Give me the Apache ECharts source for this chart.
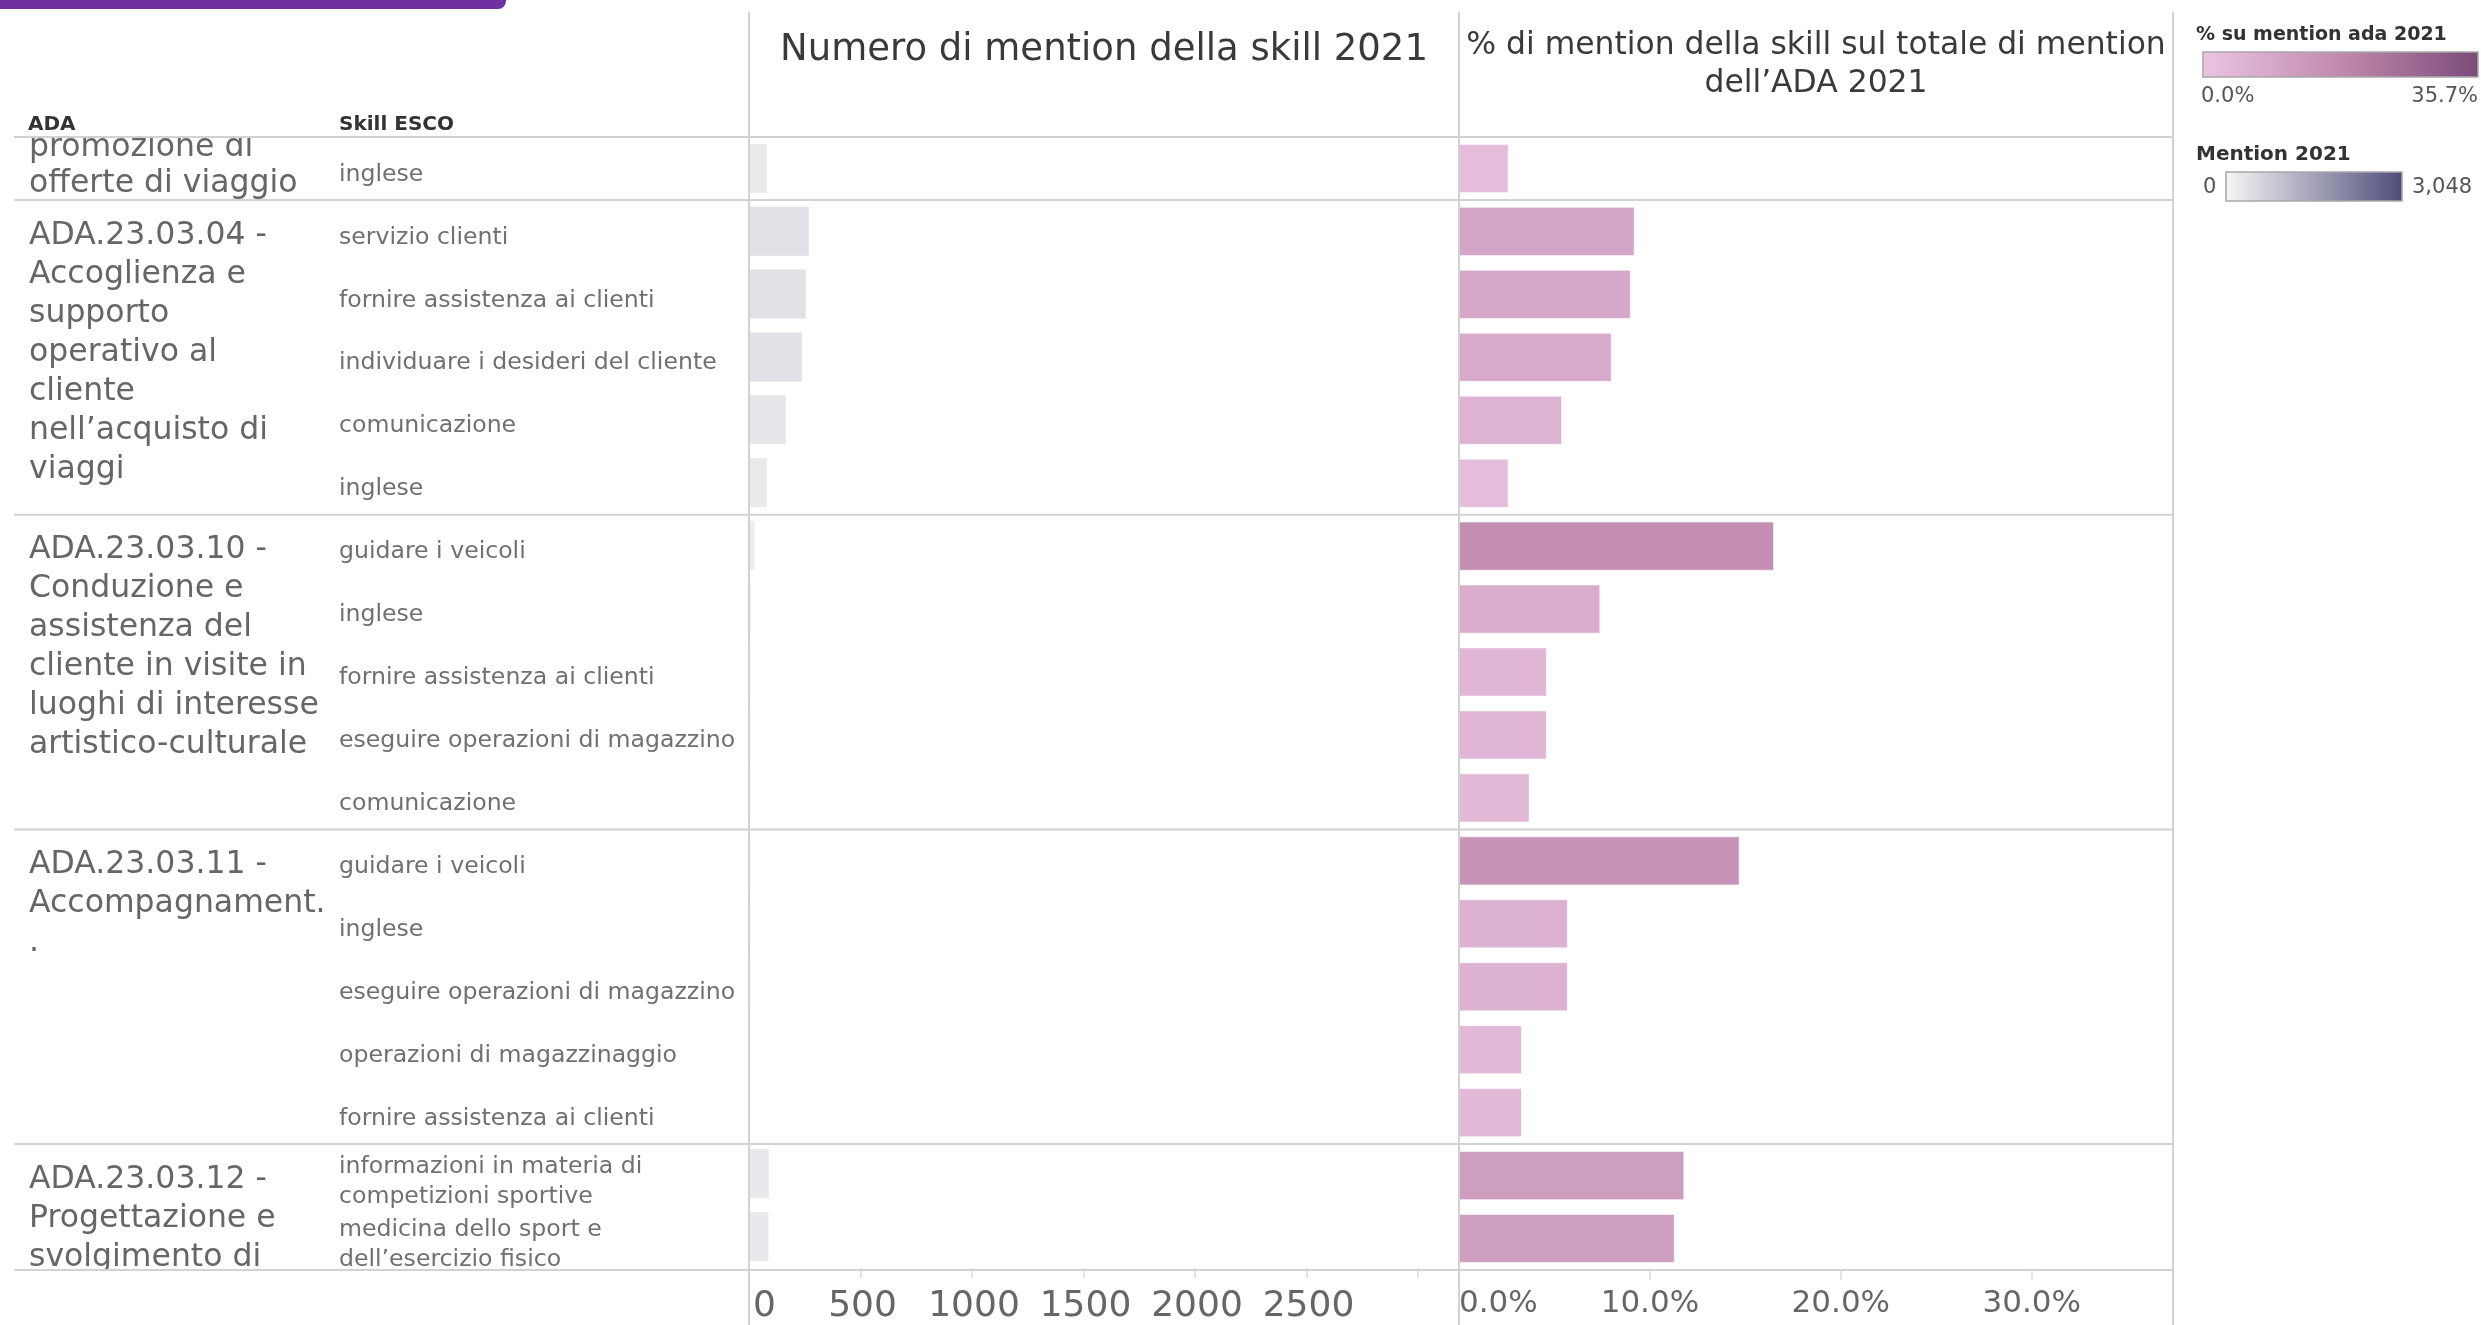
<!DOCTYPE html>
<html>
<head>
<meta charset="utf-8">
<script src="https://cdn.jsdelivr.net/npm/echarts@6/dist/echarts.min.js"></script>
<style>
html,body{margin:0;padding:0;background:#ffffff;}
#c{width:2481px;height:1325px;}
</style>
</head>
<body>
<div id="c"></div>
<script>
// ---------------- DATA ----------------
const skills = [
  'inglese',
  'servizio clienti',
  'fornire assistenza ai clienti',
  'individuare i desideri del cliente',
  'comunicazione',
  'inglese',
  'guidare i veicoli',
  'inglese',
  'fornire assistenza ai clienti',
  'eseguire operazioni di magazzino',
  'comunicazione',
  'guidare i veicoli',
  'inglese',
  'eseguire operazioni di magazzino',
  'operazioni di magazzinaggio',
  'fornire assistenza ai clienti',
  'informazioni in materia di\ncompetizioni sportive',
  'medicina dello sport e\ndell’esercizio fisico'
];
const adaLabels = [
  'promozione di\nofferte di viaggio',
  'ADA.23.03.04 -\nAccoglienza e\nsupporto\noperativo al\ncliente\nnell’acquisto di\nviaggi',
  'ADA.23.03.10 -\nConduzione e\nassistenza del\ncliente in visite in\nluoghi di interesse\nartistico-culturale',
  'ADA.23.03.11 -\nAccompagnament.\n.',
  'ADA.23.03.12 -\nProgettazione e\nsvolgimento di'
];
const adaGroupStart = [0, 1, 6, 11, 16];
const adaGroupSize  = [1, 5, 5, 5, 2];
const mentions2021 = [80, 268, 254, 237, 165, 80, 25, 8, 7, 7, 6, 6, 5, 5, 4, 4, 89, 87];
const pctOfAda2021 = [2.6, 9.2, 9.0, 8.0, 5.4, 2.6, 16.5, 7.4, 4.6, 4.6, 3.7, 14.7, 5.7, 5.7, 3.3, 3.3, 11.8, 11.3];
const countAxisMax = 3184;
const pctAxisMax = 37.4;
const mentionLegendMax = 3048;
const pctLegendMax = 35.7;
const countTickLabels = [0, 500, 1000, 1500, 2000, 2500];
const pctTickLabels = [0, 10, 20, 30];

// ---------------- STYLE ----------------
const FONT = 'DejaVu Sans';
const countColors = ['#eeeef0', '#4e4d7a'];
const pctColors = ['#ecc4e2', '#d5a7c8', '#c08aad', '#9f6a94', '#7b4a7a'];
const L = {top: 137, bottom: 1270, left: 14, cL: 749, pL: 1459, pR: 2173};
const H = L.bottom - L.top;
const SKILL_LABEL_DY = 6;

const chart = echarts.init(document.getElementById('c'));

const option = {
  backgroundColor: '#ffffff',
  animation: false,
  textStyle: {fontFamily: FONT},
  grid: [
    {left: L.cL, top: L.top, width: L.pL - L.cL, height: H},
    {left: L.pL, top: L.top, width: L.pR - L.pL, height: H},
    {left: L.left, top: L.top, width: L.pR - L.left, height: H},
    {left: L.cL, top: L.top + SKILL_LABEL_DY, width: L.pL - L.cL, height: H}
  ],
  xAxis: [
    {
      gridIndex: 0, type: 'value', min: 0, max: countAxisMax, interval: 500,
      axisLine: {show: false}, splitLine: {show: false},
      axisTick: {show: true, length: 10, lineStyle: {color: '#dcdcdc', width: 1.5}},
      axisLabel: {
        margin: 39, verticalAlign: 'middle', fontFamily: FONT, fontSize: 36, color: '#666',
        alignMinLabel: 'left', showMaxLabel: false, padding: [0, 0, 0, 4],
        formatter: v => countTickLabels.indexOf(v) >= 0 ? String(v) : ''
      }
    },
    {
      gridIndex: 1, type: 'value', min: 0, max: pctAxisMax, interval: 10,
      axisLine: {show: false}, splitLine: {show: false},
      axisTick: {show: true, length: 10, lineStyle: {color: '#dcdcdc', width: 1.5}},
      axisLabel: {
        margin: 34, verticalAlign: 'middle', fontFamily: FONT, fontSize: 31, color: '#666',
        alignMinLabel: 'left', showMaxLabel: false,
        formatter: v => pctTickLabels.indexOf(v) >= 0 ? v.toFixed(1) + '%' : ''
      }
    },
    {gridIndex: 2, type: 'value', min: 0, max: 1, show: false},
    {gridIndex: 3, type: 'value', min: 0, max: 1, show: false}
  ],
  yAxis: [
    {gridIndex: 0, type: 'category', inverse: true, data: skills, show: false},
    {gridIndex: 1, type: 'category', inverse: true, data: skills, show: false},
    {gridIndex: 2, type: 'category', inverse: true, data: skills, show: false},
    {
      gridIndex: 3, type: 'category', inverse: true, data: skills,
      axisLine: {show: false}, axisTick: {show: false}, splitLine: {show: false},
      axisLabel: {
        margin: L.cL - 339, align: 'left', fontFamily: FONT, fontSize: 23.6,
        color: '#707070', lineHeight: 30, interval: 0
      }
    }
  ],
  visualMap: [
    {show: false, type: 'continuous', seriesIndex: 0, dimension: 0, min: 0, max: mentionLegendMax, inRange: {color: countColors}},
    {show: false, type: 'continuous', seriesIndex: 1, dimension: 0, min: 0, max: pctLegendMax, inRange: {color: pctColors}}
  ],
  series: [
    {
      type: 'bar', xAxisIndex: 0, yAxisIndex: 0, barWidth: '78%', silent: true,
      data: mentions2021.map((v, i) => [v, i])
    },
    {
      type: 'bar', xAxisIndex: 1, yAxisIndex: 1, barWidth: '78%', silent: true,
      itemStyle: {borderColor: 'rgba(255,255,255,0.55)', borderWidth: 1},
      data: pctOfAda2021.map((v, i) => [v, i])
    }
  ]
};
chart.setOption(option);

// --------- layout decorations derived from the category axis ---------
const band = H / skills.length;
const rowTop = i => chart.convertToPixel({yAxisIndex: 2}, i) - band / 2;
const LINE = '#d2d2d2';
const g = [];

// purple accent bar
g.push({type: 'rect', z: 10, shape: {x: 0, y: 0, width: 506, height: 9, r: [0, 0, 8, 0]}, style: {fill: '#7030a0'}});

// ADA group labels
adaLabels.forEach((t, k) => {
  const top = rowTop(adaGroupStart[k]);
  const bottom = top + band * adaGroupSize[k];
  if (k === 0) {
    g.push({type: 'text', z: 1, x: 29, y: bottom + 2,
      style: {text: t, fontFamily: FONT, fontSize: 31.5, lineHeight: 36, fill: '#666',
        align: 'left', verticalAlign: 'bottom', textAlign: 'left', textVerticalAlign: 'bottom'}});
  } else {
    g.push({type: 'text', z: 1, x: 29, y: top + 16,
      style: {text: t, fontFamily: FONT, fontSize: 31.5, lineHeight: 39, fill: '#666',
        align: 'left', verticalAlign: 'top', textAlign: 'left', textVerticalAlign: 'top'}});
  }
});
// white covers that clip the label column at the header and axis rows
g.push({type: 'rect', z: 2, shape: {x: 0, y: 86, width: 335, height: L.top - 86 - 1}, style: {fill: '#fff'}});
g.push({type: 'rect', z: 2, shape: {x: 0, y: L.bottom + 1, width: L.cL - 2, height: 1325 - L.bottom}, style: {fill: '#fff'}});

// horizontal separators: header, ADA group boundaries, axis
const hy = [L.top, L.bottom].concat(adaGroupStart.slice(1).map(s => rowTop(s)));
hy.forEach(y => g.push({type: 'line', z: 5, shape: {x1: L.left, y1: y, x2: L.pR, y2: y}, style: {stroke: LINE, lineWidth: 2}}));
// vertical panel dividers
[L.cL, L.pL, L.pR].forEach(x => g.push({type: 'line', z: 5, shape: {x1: x, y1: 12, x2: x, y2: 1325}, style: {stroke: LINE, lineWidth: 2}}));

// header texts
const hdr = (text, x, y, size, extra) => Object.assign({type: 'text', z: 6, x: x, y: y,
  style: Object.assign({text: text, fontFamily: FONT, fontSize: size, fill: '#333',
    align: 'left', verticalAlign: 'middle', textAlign: 'left', textVerticalAlign: 'middle'}, extra || {})});
g.push(hdr('ADA', 28, 125, 20, {fontWeight: 'bold'}));
g.push(hdr('Skill ESCO', 339, 125, 20, {fontWeight: 'bold'}));
g.push(hdr('Numero di mention della skill 2021', (L.cL + L.pL) / 2, 50, 37, {align: 'center', textAlign: 'center', fill: '#3a3a3a'}));
g.push(hdr('% di mention della skill sul totale di mention\ndell’ADA 2021', (L.pL + L.pR) / 2, 27, 31.4,
  {align: 'center', textAlign: 'center', verticalAlign: 'top', textVerticalAlign: 'top', lineHeight: 38, fill: '#3a3a3a'}));

// colour legends
const grad = cols => new echarts.graphic.LinearGradient(0, 0, 1, 0, cols.map((c, i) => ({offset: i / (cols.length - 1), color: c})));
g.push(hdr('% su mention ada 2021', 2196, 35, 19, {fontWeight: 'bold'}));
g.push({type: 'rect', z: 6, shape: {x: 2203, y: 52, width: 275, height: 25}, style: {fill: grad(pctColors), stroke: '#a8a8a8', lineWidth: 1.5}});
g.push(hdr('0.0%', 2201, 97, 21, {fill: '#555'}));
g.push(hdr(pctLegendMax.toFixed(1) + '%', 2478, 97, 21, {fill: '#555', align: 'right', textAlign: 'right'}));
g.push(hdr('Mention 2021', 2196, 155, 20, {fontWeight: 'bold'}));
g.push(hdr('0', 2203, 188, 21, {fill: '#555'}));
g.push({type: 'rect', z: 6, shape: {x: 2226, y: 172, width: 176, height: 29}, style: {fill: grad(['#f7f7f7', countColors[1]]), stroke: '#a8a8a8', lineWidth: 1.5}});
g.push(hdr(mentionLegendMax.toLocaleString('en-US'), 2412, 188, 21, {fill: '#555'}));

chart.setOption({graphic: {elements: g}});
</script>
</body>
</html>
